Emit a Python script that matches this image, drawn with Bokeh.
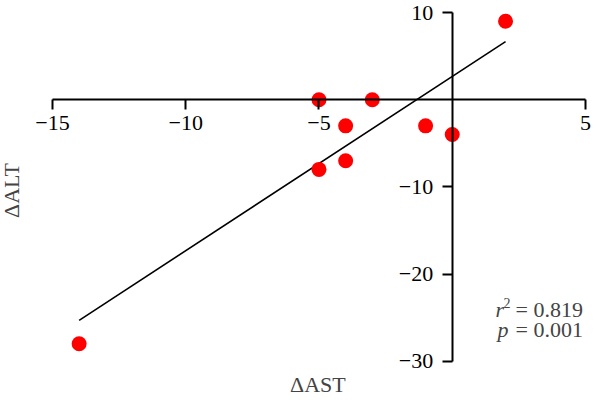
import numpy as np
from bokeh.plotting import figure
from bokeh.models import LinearAxis, FixedTicker, Range1d, Label
from bokeh.embed import file_html
from bokeh.resources import INLINE

# data
d_ast = [2, -5, -3, -4, -1, 0, -4, -5, -14]
d_alt = [9, 0, 0, -3, -3, -4, -7, -8, -28]

x_ticks = [-15, -10, -5, 5]
x_tick_labels = ["\u221215", "\u221210", "\u22125", "5"]
y_ticks = [-30, -20, -10, 10]
y_tick_labels = ["\u221230", "\u221220", "\u221210", "10"]

r2_text = "0.819"
p_text = "0.001"

FONT = "Liberation Serif"
FS = "22px"

W, H = 592, 396
p = figure(width=W, height=H, output_backend="svg", toolbar_location=None,
           x_axis_type=None, y_axis_type=None,
           x_range=Range1d(-16.951, 5.263), y_range=Range1d(-34.049, 11.377),
           min_border=0)
p.grid.visible = False
p.outline_line_color = None
p.background_fill_color = "white"

def style_axis(ax):
    ax.axis_line_width = 2
    ax.axis_line_color = "black"
    ax.major_tick_line_width = 2
    ax.major_tick_line_color = "black"
    ax.major_tick_in = 0
    ax.major_tick_out = 10
    ax.minor_tick_out = 0
    ax.minor_tick_in = 0
    ax.major_label_text_font = FONT
    ax.major_label_text_font_size = FS
    ax.major_label_text_color = "black"

xax = LinearAxis(fixed_location=0, ticker=FixedTicker(ticks=x_ticks), bounds=(-15, 5))
xax.major_label_overrides = {t: l for t, l in zip(x_ticks, x_tick_labels)}
style_axis(xax)
xax.major_label_standoff = 6
p.add_layout(xax, "below")

yax = LinearAxis(fixed_location=0, ticker=FixedTicker(ticks=y_ticks), bounds=(-30, 10))
yax.major_label_overrides = {t: l for t, l in zip(y_ticks, y_tick_labels)}
style_axis(yax)
yax.major_label_standoff = 9
p.add_layout(yax, "left")

# regression line
slope, intercept = np.polyfit(d_ast, d_alt, 1)
xs = np.array([min(d_ast), max(d_ast)], dtype=float)
p.line(xs, slope * xs + intercept, line_color="black", line_width=1.6)

p.scatter(d_ast, d_alt, size=15, fill_color="#ff0000", line_color=None)

# axis titles
p.add_layout(Label(x=-5.04, y=-32.67, text="\u0394AST", text_font=FONT, text_font_size="22px",
                   text_align="center", text_baseline="middle"))
p.add_layout(Label(x=-16.557, y=-10.42, text="\u0394ALT", text_font=FONT, text_font_size="22px",
                   text_align="center", text_baseline="middle", angle=np.pi / 2))

# statistics
bx = 1.623
ry, py = -24.07, -26.31
p.add_layout(Label(x=bx, y=ry, text="r", text_font=FONT, text_font_size=FS,
                   text_font_style="italic", text_baseline="middle"))
p.add_layout(Label(x=bx, y=ry, x_offset=8, y_offset=7, text="2", text_font=FONT,
                   text_font_size="14px", text_baseline="middle"))
p.add_layout(Label(x=bx, y=ry, x_offset=20, text="= " + r2_text, text_font=FONT,
                   text_font_size=FS, text_baseline="middle"))
p.add_layout(Label(x=bx, y=py, x_offset=2, text="p", text_font=FONT, text_font_size=FS,
                   text_font_style="italic", text_baseline="middle"))
p.add_layout(Label(x=bx, y=py, x_offset=20, text="= " + p_text, text_font=FONT,
                   text_font_size=FS, text_baseline="middle"))

open("out.html", "w").write(file_html(p, INLINE))
